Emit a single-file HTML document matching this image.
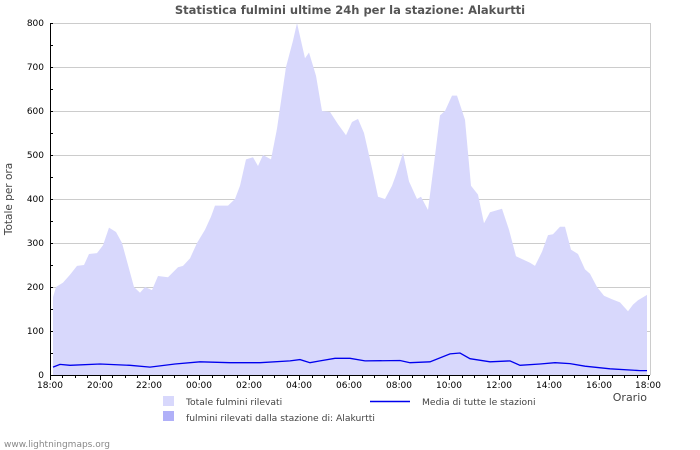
<!DOCTYPE html>
<html><head><meta charset="utf-8"><style>body{margin:0;background:#fff}svg{display:block;font-family:"DejaVu Sans","Liberation Sans",sans-serif}</style></head><body>
<svg width="700" height="450" viewBox="0 0 700 450">
<text x="350" y="14" text-anchor="middle" font-size="11.5" font-weight="bold" fill="#555">Statistica fulmini ultime 24h per la stazione: Alakurtti</text>
<g stroke="#ccc" stroke-width="1">
<line x1="50" y1="23.5" x2="650" y2="23.5"/><line x1="50" y1="67.5" x2="650" y2="67.5"/><line x1="50" y1="111.5" x2="650" y2="111.5"/><line x1="50" y1="155.5" x2="650" y2="155.5"/><line x1="50" y1="199.5" x2="650" y2="199.5"/><line x1="50" y1="243.5" x2="650" y2="243.5"/><line x1="50" y1="287.5" x2="650" y2="287.5"/><line x1="50" y1="331.5" x2="650" y2="331.5"/>
<line x1="650.5" y1="23" x2="650.5" y2="375"/>
</g>
<polygon fill="#d8d8fc" points="53,375 53,297.1 56,287 63,282.6 70,274.7 77,265.9 84,265 89,254 97,253.1 103,245.2 109,227.6 116,232 122,243 128,265 134,287 140,292.7 145,287 152,290.1 158,276 168,277.3 178,267.2 183,265.9 190,258.4 197,243 205,229.8 211,216.6 215,205.6 228,205.6 235,199 240,185.8 246,159.4 253,157.2 258,166 263,155 271,159.4 277,128.6 286,67 293,40.6 297,23 305,58.2 309,52.5 316,75.8 322,111 330,111.9 338,124.2 346,135.2 352,122 358,118.9 364,133 372,168.2 378,196.8 385,199 392,185.8 396,174.8 403,152.8 409,181.4 417,199 421,196.8 428,210 434,163.8 440,115.4 445,111 452,95.6 457,95.6 465,119.8 471,185.8 478,194.6 484,223.2 490,212.2 502,208.7 509,229.8 516,256.2 530,262.8 535,265.9 542,251.8 548,235.1 553,234.2 560,226.7 565,226.7 571,249.6 578,254 585,269.4 590,273.8 597,287 604,295.8 612,299.3 620,302.4 628,311.2 633,304.6 638,300.2 647,294.9 647,375"/>
<polyline fill="none" stroke="#0000ee" stroke-width="1.3" points="53,367.1 60,364.4 70,365.3 100,364 130,365.3 150,367.1 175,364 200,361.8 230,362.7 260,362.7 290,360.9 300,359.6 310,362.7 320,360.9 335,358.3 350,358.3 365,360.9 400,360.5 410,362.7 430,361.8 450,353.9 460,353 470,358.7 490,361.8 510,360.9 520,365.3 540,364 555,362.7 570,363.6 585,366.2 610,368.8 640,370.6 647,370.6"/>
<g stroke="#000" stroke-width="1">
<line x1="50.5" y1="23" x2="50.5" y2="375"/><line x1="50" y1="375.5" x2="650" y2="375.5"/>
</g>
<g stroke="#000">
<path d="M50 23.5h3M50 45.5h3M50 67.5h3M50 89.5h3M50 111.5h3M50 133.5h3M50 155.5h3M50 177.5h3M50 199.5h3M50 221.5h3M50 243.5h3M50 265.5h3M50 287.5h3M50 309.5h3M50 331.5h3M50 353.5h3"/>
<path d="M50.5 375v5M100.5 375v5M149.5 375v5M199.5 375v5M249.5 375v5M299.5 375v5M349.5 375v5M399.5 375v5M449.5 375v5M499.5 375v5M549.5 375v5M599.5 375v5M648.5 375v5"/>
<path d="M62.5 375v3M75.5 375v3M87.5 375v3M112.5 375v3M125.5 375v3M137.5 375v3M162.5 375v3M174.5 375v3M187.5 375v3M212.5 375v3M224.5 375v3M237.5 375v3M262.5 375v3M274.5 375v3M287.5 375v3M312.5 375v3M324.5 375v3M337.5 375v3M362.5 375v3M374.5 375v3M387.5 375v3M412.5 375v3M424.5 375v3M437.5 375v3M462.5 375v3M474.5 375v3M487.5 375v3M512.5 375v3M524.5 375v3M537.5 375v3M562.5 375v3M574.5 375v3M587.5 375v3M612.5 375v3M624.5 375v3M637.5 375v3"/>
</g>
<g font-size="9" fill="#000" text-anchor="end">
<text x="44" y="26">800</text><text x="44" y="70">700</text><text x="44" y="114">600</text><text x="44" y="158">500</text><text x="44" y="202">400</text><text x="44" y="246">300</text><text x="44" y="290">200</text><text x="44" y="334">100</text><text x="44" y="378">0</text>
</g>
<g font-size="9" fill="#000" text-anchor="middle">
<text x="50" y="388">18:00</text><text x="100" y="388">20:00</text><text x="149" y="388">22:00</text><text x="199" y="388">00:00</text><text x="249" y="388">02:00</text><text x="299" y="388">04:00</text><text x="349" y="388">06:00</text><text x="399" y="388">08:00</text><text x="449" y="388">10:00</text><text x="499" y="388">12:00</text><text x="549" y="388">14:00</text><text x="599" y="388">16:00</text><text x="648" y="388">18:00</text>
</g>
<text x="12" y="199" font-size="10.5" fill="#444" text-anchor="middle" transform="rotate(-90 12 199)">Totale per ora</text>
<text x="647" y="401" font-size="11" fill="#444" text-anchor="end">Orario</text>
<rect x="163" y="396" width="11" height="10" fill="#d8d8fc"/>
<rect x="163" y="411" width="11" height="10" fill="#b0b0f8"/>
<text x="186" y="405" font-size="9.2" fill="#444">Totale fulmini rilevati</text>
<text x="186" y="421" font-size="9.2" fill="#444">fulmini rilevati dalla stazione di: Alakurtti</text>
<line x1="370" y1="401.5" x2="410" y2="401.5" stroke="#0000ee" stroke-width="1.5"/>
<text x="422" y="405" font-size="9.2" fill="#444">Media di tutte le stazioni</text>
<text x="4" y="447" font-size="9" fill="#888">www.lightningmaps.org</text>
</svg>
</body></html>
